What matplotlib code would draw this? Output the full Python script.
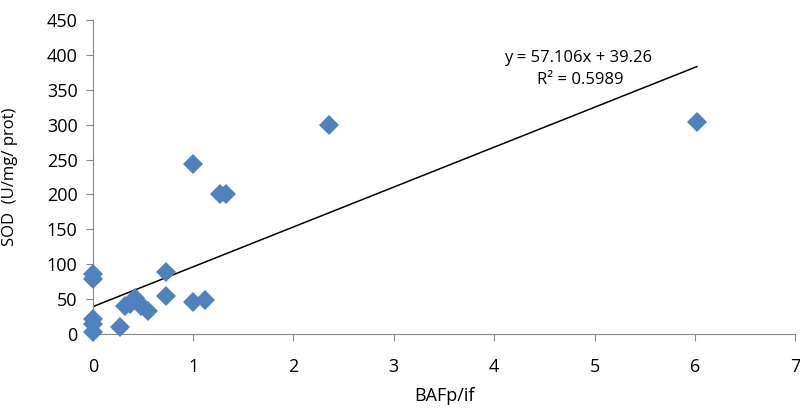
import numpy as np
import matplotlib
matplotlib.use('Agg')
import matplotlib.pyplot as plt

# SOD vs BAFp/if values
bafp = [0, 0, 0, 0, 0, 0.27, 0.32, 0.37, 0.42, 0.45, 0.48, 0.55,
        0.73, 0.73, 1.0, 1.0, 1.12, 1.27, 1.33, 2.35, 6.02]
sod = [3, 15, 22, 79, 86, 10, 40, 43, 52, 46, 40, 33,
       89, 54, 46, 243, 49, 200, 200, 300, 304]

# trend line from the chart
slope = 57.106
intercept = 39.26
r2 = 0.5989

plt.rcParams['font.family'] = ['Open Sans', 'DejaVu Sans']

fig = plt.figure(figsize=(8, 4.13), dpi=100)
ax = fig.add_axes([0.116, 0.191, 0.878, 0.761])

ax.plot(bafp, sod, 'D', color='#4F81BD', markersize=10, markeredgewidth=0,
        clip_on=False, zorder=3)

xx = np.array([0, 6.02])
ax.plot(xx, slope * xx + intercept, color='black', linewidth=1.1, zorder=2)

ax.text(4.84, 395, 'y = %.3fx + %.2f' % (slope, intercept), ha='center', va='center', fontsize=12)
ax.text(4.86, 364, 'R² = %.4f' % r2, ha='center', va='center', fontsize=12)

ax.set_xlim(0, 7)
ax.set_ylim(0, 450)
ax.set_xticks(range(0, 8))
ax.set_yticks(range(0, 451, 50))
ax.tick_params(labelsize=13, color='#868686', length=5, pad=12)
ax.tick_params(axis='y', pad=6)

for s in ['top', 'right']:
    ax.spines[s].set_visible(False)
for s in ['left', 'bottom']:
    ax.spines[s].set_color('#868686')

ax.set_xlabel('BAFp/if', fontsize=13, labelpad=8)
ax.set_ylabel('SOD  (U/mg/ prot)', fontsize=12)
ax.yaxis.set_label_coords(-0.107, 0.5)

fig.savefig('out.png', dpi=100)
